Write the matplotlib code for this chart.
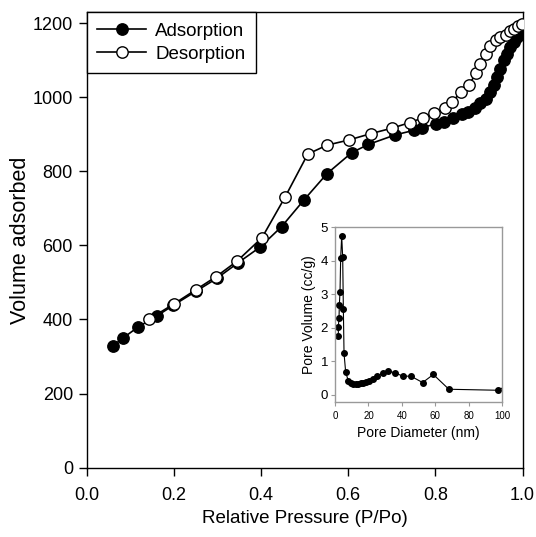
import matplotlib
matplotlib.use("Agg")
import matplotlib.pyplot as plt

plt.rcParams['font.family'] = ['Liberation Sans', 'DejaVu Sans']

# ---------------- Isotherm data ----------------
ads_p = [0.059, 0.082, 0.118, 0.160, 0.198, 0.250, 0.298, 0.348, 0.398, 0.447,
         0.499, 0.551, 0.608, 0.646, 0.708, 0.750, 0.769, 0.801, 0.820, 0.840,
         0.860, 0.875, 0.890, 0.903, 0.915, 0.926, 0.934, 0.942, 0.949, 0.957,
         0.965, 0.972, 0.980, 0.988, 0.994, 0.999]
ads_v = [328, 349, 380, 409, 438, 476, 511, 554, 596, 651,
         724, 794, 851, 873, 899, 911, 918, 929, 934, 945,
         954, 962, 972, 984, 997, 1015, 1033, 1055, 1078, 1100,
         1118, 1136, 1150, 1163, 1177, 1195]

des_p = [0.143, 0.201, 0.251, 0.297, 0.344, 0.402, 0.455, 0.507, 0.551, 0.601,
         0.651, 0.700, 0.741, 0.771, 0.797, 0.822, 0.838, 0.859, 0.877, 0.894,
         0.903, 0.917, 0.926, 0.938, 0.949, 0.961, 0.972, 0.980, 0.989, 0.999]
des_v = [401, 443, 481, 516, 557, 621, 731, 847, 871, 885,
         902, 917, 932, 945, 958, 971, 988, 1015, 1035, 1066,
         1091, 1118, 1140, 1154, 1163, 1170, 1179, 1186, 1192, 1199]

# ---------------- Pore size distribution (inset) ----------------
pore_d = [2.0, 2.0, 2.4, 2.6, 3.0, 3.4, 4.0, 4.6, 5.0, 5.4,
          6.4, 8.0, 9.4, 11.0, 12.5, 14.0, 15.5, 17.0, 18.5, 20.3,
          22.5, 25.3, 28.5, 31.9, 35.9, 40.5, 45.4, 52.4, 58.8, 68.1,
          97.6, 104.0]
pore_v = [1.75, 2.03, 2.30, 2.68, 3.08, 4.09, 4.74, 4.10, 2.55, 1.24,
          0.67, 0.42, 0.37, 0.34, 0.34, 0.34, 0.36, 0.37, 0.39, 0.42,
          0.49, 0.57, 0.64, 0.71, 0.66, 0.56, 0.56, 0.37, 0.61, 0.17,
          0.14, 0.32]

main_xticks = [0.0, 0.2, 0.4, 0.6, 0.8, 1.0]
main_yticks = [0, 200, 400, 600, 800, 1000, 1200]
inset_xticks = [0, 20, 40, 60, 80, 100]
inset_yticks = [0, 1, 2, 3, 4, 5]

fig = plt.figure(figsize=(5.36, 5.37), dpi=100)
ax = fig.add_axes([0.162, 0.1294, 0.813, 0.8476])

ax.plot(ads_p, ads_v, '-o', color='black', linewidth=1.2, markersize=8.2,
        markerfacecolor='black', markeredgecolor='black', label='Adsorption', zorder=3)
ax.plot(des_p, des_v, '-o', color='black', linewidth=1.2, markersize=8.2,
        markerfacecolor='white', markeredgecolor='black', markeredgewidth=1.0,
        label='Desorption', zorder=4)

ax.set_xlim(0, 1.0)
ax.set_ylim(0, 1230)
ax.set_xticks(main_xticks)
ax.set_xticklabels([f"{t:.1f}" for t in main_xticks])
ax.set_yticks(main_yticks)
ax.tick_params(direction='out', length=6, width=1, labelsize=13)
ax.tick_params(axis='x', pad=8)
ax.tick_params(axis='y', pad=4)
for s in ax.spines.values():
    s.set_linewidth(1)
ax.set_xlabel("Relative Pressure (P/Po)", fontsize=13.5, labelpad=4)
ax.set_ylabel("Volume adsorbed", fontsize=15.5, labelpad=1)

leg = ax.legend(loc='upper left', borderaxespad=0, fancybox=False, framealpha=1,
                edgecolor='black', fontsize=13.5, handlelength=2.6,
                borderpad=0.55, labelspacing=0.3, handletextpad=0.5)
leg.get_frame().set_linewidth(1)

# ---------------- Inset ----------------
ins = fig.add_axes([0.625, 0.252, 0.312, 0.325])
ins.plot(pore_d, pore_v, '-o', color='black', linewidth=0.8, markersize=4)
ins.set_xlim(0, 100)
ins.set_ylim(-0.2, 5)
ins.set_xticks(inset_xticks)
ins.set_yticks(inset_yticks)
for s in ins.spines.values():
    s.set_color('#999999')
    s.set_linewidth(1)
ins.tick_params(axis='x', labelsize=7, length=3, color='#999999', pad=4)
ins.tick_params(axis='y', labelsize=9.5, length=3, color='#999999', pad=2)
ins.set_xlabel("Pore Diameter (nm)", fontsize=10, labelpad=3)
ins.set_ylabel("Pore Volume (cc/g)", fontsize=10, labelpad=3)

fig.savefig("out.png", dpi=100)
